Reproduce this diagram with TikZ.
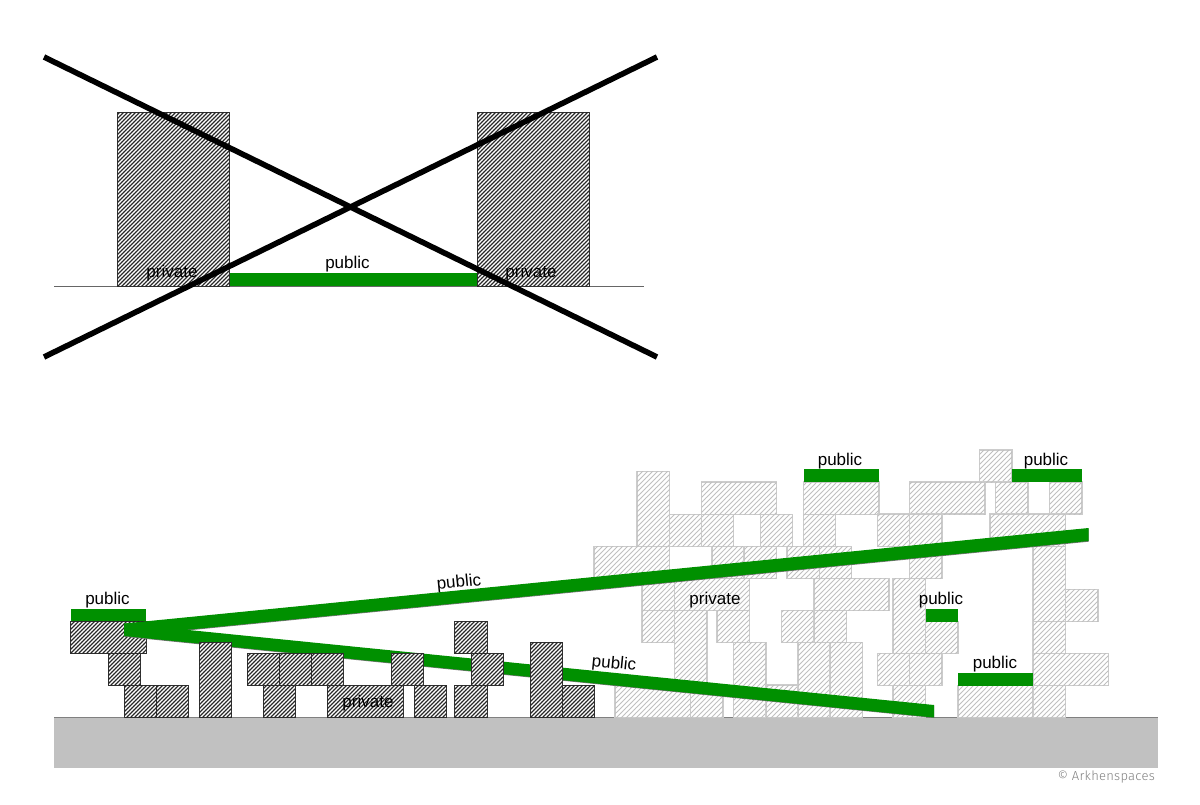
\documentclass[tikz,border=0pt]{standalone}
\usepackage{fontspec}
\setmainfont{Liberation Sans}
\newfontfamily\creditfont[LetterSpace=2]{Fira Sans Light}
\usetikzlibrary{patterns.meta}
\definecolor{pubgreen}{HTML}{009000}
\definecolor{groundgray}{HTML}{C1C1C1}
\tikzset{
  x=1pt,y=-1pt,
  darkblock/.style={draw=black!80,line width=1pt,fill=white,postaction={pattern={Lines[angle=45,distance=2.8284pt,line width=1.35pt]},pattern color=black!85}},
  lightblock/.style={draw=black!20,line width=1.3pt,fill=white,postaction={pattern={Lines[angle=45,distance=3.5355pt,line width=1pt]},pattern color=black!25}},
  greenbar/.style={fill=pubgreen},
  rampshade/.style={fill=black!55},
  cross/.style={draw=black,line width=5.6pt},
  label/.style={font=\fontsize{17}{20}\selectfont,text=black,inner sep=0pt},
}
\newcommand{\LB}[4]{\path[lightblock] (#1,#2) rectangle (#3,#4);}
\newcommand{\DB}[4]{\path[darkblock] (#1,#2) rectangle (#3,#4);}
\newcommand{\GB}[4]{\path[greenbar] (#1,#2) rectangle (#3,#4);}
\begin{document}
\begin{tikzpicture}
\useasboundingbox (0,0) rectangle (1200,804);
\fill[white] (0,0) rectangle (1200,804);
% top scheme
\draw[black!60,line width=1pt] (54,286) -- (644,286);
\DB{117.5}{112}{229.5}{286}
\DB{477}{112}{589.5}{286}
\GB{229.5}{273}{477}{286}
\node[label] (pubtop) at (347.5,264) {public};
\node[label] (privl) at (172,273) {private};
\node[label] (privr) at (531,273) {private};
\coordinate (c1) at (44,57); \coordinate (c2) at (657,357);
\coordinate (c3) at (44,357); \coordinate (c4) at (657,57);
\draw[cross] (c1) -- (c2);
\draw[cross] (c3) -- (c4);
% ground
\fill[groundgray] (54,717.5) rectangle (1158,768);
\draw[black!50,line width=1.4pt] (54,717.5) -- (1158,717.5);
% light blocks
\LB{637}{471.5}{669.5}{546.5}
\LB{701.5}{482}{776.5}{514.5}
\LB{669.5}{514.5}{701.5}{546.5}
\LB{701.5}{514.5}{733.5}{546.5}
\LB{760.5}{514.5}{792.5}{546.5}
\LB{803.5}{482}{879}{514.5}
\LB{803.5}{514.5}{835.5}{546.5}
\LB{594}{546.5}{669.5}{578.5}
\LB{712}{546.5}{744}{578.5}
\LB{744}{546.5}{776.5}{578.5}
\LB{787}{546.5}{819.5}{578.5}
\LB{819.5}{546.5}{851.5}{578.5}
\LB{642}{578.5}{674.5}{610.5}
\LB{674.5}{578.5}{749.5}{610.5}
\LB{642}{610.5}{674.5}{642.5}
\LB{674.5}{610.5}{707}{685}
\LB{717}{610.5}{749.5}{642.5}
\LB{781.5}{610.5}{814}{642.5}
\LB{814}{610.5}{846.5}{642.5}
\LB{814}{578.5}{889}{610.5}
\LB{733.5}{642.5}{766}{717.5}
\LB{766}{685}{798}{717.5}
\LB{798}{642.5}{830}{717.5}
\LB{830}{642.5}{862.5}{717.5}
\LB{615}{685}{690.5}{717.5}
\LB{690.5}{685}{723}{717.5}
\LB{979.5}{450}{1012}{482}
\LB{909.5}{482}{985}{514}
\LB{995.5}{482}{1028}{514}
\LB{1049.5}{482}{1082}{514}
\LB{877.5}{514}{909.5}{546.5}
\LB{909.5}{514}{942}{578.5}
\LB{990}{514}{1065.5}{546.5}
\LB{1033}{546.5}{1065.5}{621.5}
\LB{1033}{621.5}{1065.5}{653.5}
\LB{1033}{653.5}{1108.5}{685.5}
\LB{1033}{685.5}{1065.5}{717.5}
\LB{1065.5}{589.5}{1098}{621.5}
\LB{893}{578.5}{925.5}{653.5}
\LB{925.5}{621.5}{958}{653.5}
\LB{877.5}{653.5}{909.5}{685.5}
\LB{909.5}{653.5}{942}{685.5}
\LB{893}{685.5}{925.5}{717.5}
\LB{958}{685.5}{1033}{717.5}
% green caps
\GB{925.5}{609}{958}{621.5}
\GB{958}{673}{1033}{685.5}
\GB{1012}{469.3}{1082}{482}
\GB{803.5}{469.3}{879}{482}
\GB{70.5}{608.5}{146}{621}
% ramps
\DB{70.5}{621}{146}{653.5}
\path[rampshade] (124,624.2) -- (1088.5,528.7) -- (1088.5,541.7) -- (124,636.7) -- cycle;
\path[rampshade] (124,624.2) -- (934,705.7) -- (934,718) -- (124,636.7) -- cycle;
\path[greenbar] (124,623.5) -- (1088.5,528) -- (1088.5,541) -- (124,636) -- cycle;
\path[greenbar] (124,623.5) -- (934,705) -- (934,717.5) -- (124,636) -- cycle;
% dark blocks
\DB{108}{653.5}{140.5}{685}
\DB{124}{685}{156}{717.5}
\DB{156}{685}{188.5}{717.5}
\DB{199}{642.5}{231.5}{717.5}
\DB{247}{653.5}{279}{685.5}
\DB{279}{653.5}{311}{685.5}
\DB{311}{653.5}{343}{685.5}
\DB{263}{685.5}{295.5}{717.5}
\DB{327}{685.5}{403}{717.5}
\DB{391}{653.5}{423}{685.5}
\DB{414}{685.5}{446.5}{717.5}
\DB{454.5}{685.5}{487}{717.5}
\DB{454.5}{621}{487}{653.5}
\DB{471}{653.5}{503.5}{685.5}
\DB{530}{642.5}{562.5}{717.5}
\DB{562.5}{685}{594.5}{717.5}
% labels
\node[label] (publeft) at (107.5,600.5) {public};
\node[label] (pubramp1) at (459,583) [rotate=5.7] {public};
\node[label] (pubramp2) at (614,664) [rotate=-5.7] {public};
\node[label] (pubmid) at (840,461) {public};
\node[label] (pubright) at (1046,461) {public};
\node[label] (pubsmall) at (941,600.5) {public};
\node[label] (publow) at (995,664.5) {public};
\node[label] (privup) at (715,600.5) {private};
\node[label] (privlow) at (368,703.5) {private};
\node[font=\fontsize{13}{15}\selectfont\creditfont,text=black!50,anchor=east,inner sep=0pt] (credit) at (1155,776.5) {©\ Arkhenspaces};
\end{tikzpicture}
\end{document}
